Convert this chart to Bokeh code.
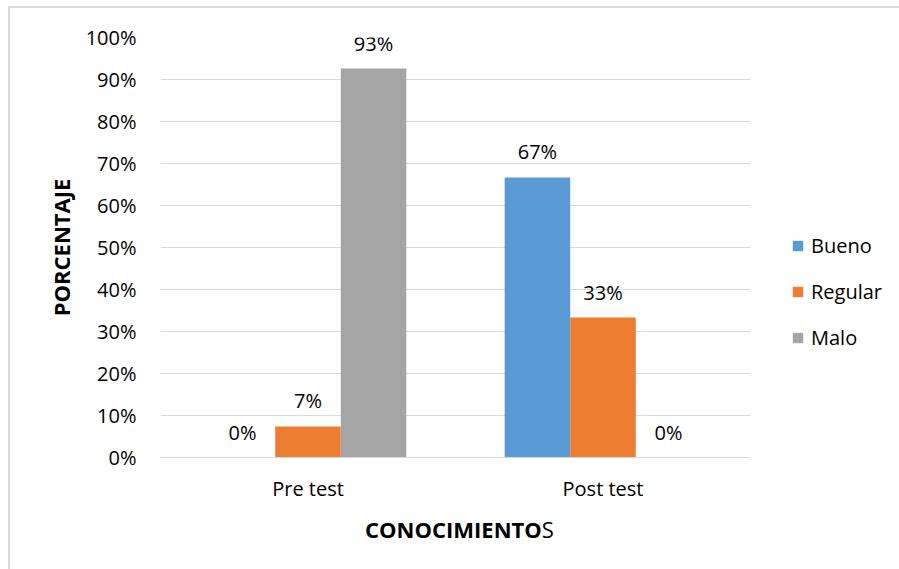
from bokeh.plotting import figure
from bokeh.layouts import column
from bokeh.models import (ColumnDataSource, FactorRange, NumeralTickFormatter,
                          FixedTicker, Legend, LegendItem, LabelSet, Div)
from bokeh.transform import dodge
from bokeh.core.properties import value
from bokeh.embed import file_html
from bokeh.resources import INLINE

# Survey results: share of each knowledge level per test
categories = ["Pre test", "Post test"]
series = ["Bueno", "Regular", "Malo"]
bueno = [0.0, 0.6667]
regular = [0.0741, 0.3333]
malo = [0.9259, 0.0]
colors = ["#5B9BD5", "#ED7D31", "#A5A5A5"]
y_ticks = [0.0, 0.1, 0.2, 0.3, 0.4, 0.5, 0.6, 0.7, 0.8, 0.9, 1.0]

FONT = "Open Sans"
TXT = "#000000"
GRID = "#d9d9d9"

data = {"cat": categories, "Bueno": bueno, "Regular": regular, "Malo": malo}
for s in series:
    data[s + "_lbl"] = ["{:.0f}%".format(v * 100) for v in data[s]]
source = ColumnDataSource(data)

p = figure(x_range=FactorRange(*categories, range_padding=0), y_range=(0, 1),
           frame_width=590, frame_height=420, output_backend="svg", toolbar_location=None,
           min_border_left=150, min_border_right=149, min_border_top=29,
           min_border_bottom=56)
p.outline_line_color = None
p.background_fill_color = "white"
p.border_fill_color = "white"

bar_w = 1 / 4.5
offsets = [-bar_w, 0.0, bar_w]
renderers = []
for s, c, off in zip(series, colors, offsets):
    r = p.vbar(x=dodge("cat", off, range=p.x_range), top=s, width=bar_w,
               source=source, fill_color=c, line_color=None)
    renderers.append(r)
    labels = LabelSet(x=dodge("cat", off, range=p.x_range), y=s, text=s + "_lbl",
                      source=source, text_align="center", text_baseline="alphabetic",
                      y_offset=18, text_font=value(FONT), text_font_size="20px",
                      text_color=TXT)
    p.add_layout(labels)

# y axis: percentages with light gridlines, no axis line
p.yaxis.ticker = FixedTicker(ticks=y_ticks)
p.yaxis.formatter = NumeralTickFormatter(format="0%")
p.yaxis.axis_line_color = None
p.yaxis.major_tick_line_color = None
p.yaxis.minor_tick_line_color = None
p.yaxis.major_label_standoff = 18
p.yaxis.major_label_text_font = FONT
p.yaxis.major_label_text_font_size = "20px"
p.yaxis.major_label_text_color = TXT
p.yaxis.axis_label = "PORCENTAJE"
p.yaxis.axis_label_text_font = FONT
p.yaxis.axis_label_text_font_size = "22px"
p.yaxis.axis_label_text_font_style = "bold"
p.yaxis.axis_label_text_color = TXT
p.yaxis.axis_label_standoff = 7
p.ygrid.grid_line_color = GRID
p.ygrid.grid_line_width = 1
p.ygrid.ticker = FixedTicker(ticks=y_ticks)

p.xaxis.axis_line_color = GRID
p.xaxis.major_tick_line_color = None
p.xaxis.minor_tick_line_color = None
p.xaxis.major_label_standoff = 11
p.xaxis.major_label_text_font = FONT
p.xaxis.major_label_text_font_size = "20px"
p.xaxis.major_label_text_color = TXT
p.xgrid.grid_line_color = None

legend = Legend(items=[LegendItem(label=s, renderers=[r]) for s, r in zip(series, renderers)],
                location=(41, 106), orientation="vertical",
                glyph_width=13, glyph_height=13, label_standoff=7,
                label_height=20, spacing=19, padding=0, margin=0,
                border_line_color=None, background_fill_alpha=0,
                label_text_font=FONT, label_text_font_size="20px",
                label_text_color=TXT)
p.add_layout(legend, "right")

# x axis title: bold stem with a regular final letter
title_x = Div(
    text=('<div style="font-family:\'Open Sans\';font-size:22px;line-height:22px;'
          'color:#000;text-align:center;width:889px;padding-top:0px;">'
          '<b>CONOCIMIENTO</b>S</div>'),
    width=889, height=56)

chart = column(p, title_x, spacing=0,
               styles={"margin-left": "8px", "margin-top": "6px",
                       "border-left": "2px solid #d9d9d9",
                       "border-top": "2px solid #d9d9d9",
                       "background-color": "white"})

open("out.html", "w").write(file_html(chart, INLINE))
